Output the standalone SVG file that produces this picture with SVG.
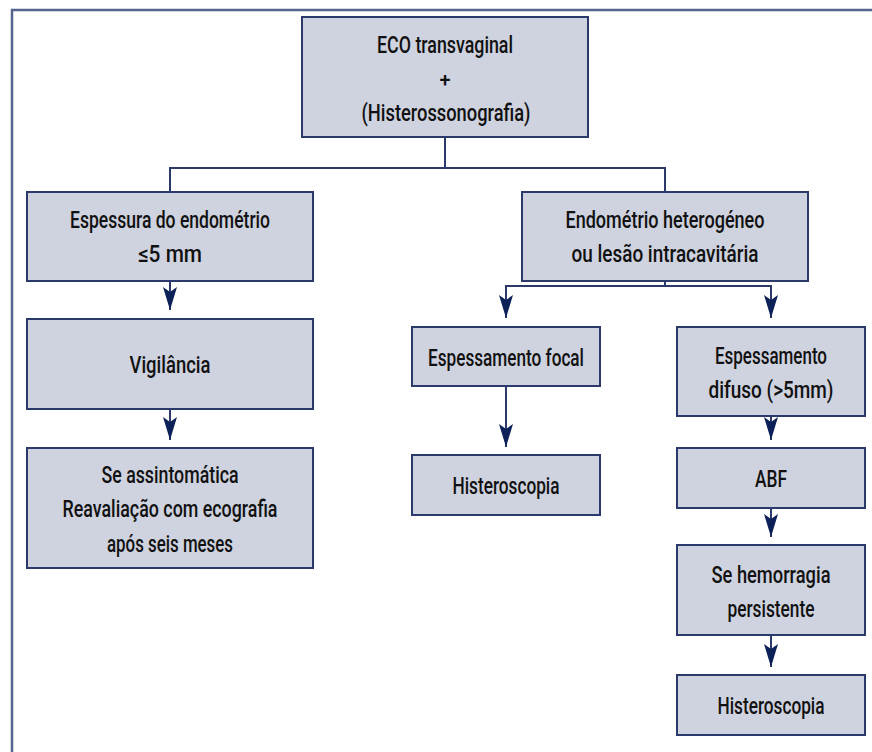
<svg xmlns="http://www.w3.org/2000/svg" width="872" height="752" viewBox="0 0 872 752">
<style>
.box{fill:#cfd3df;stroke:#2b3a6b;stroke-width:2}
.t{font-family:Roboto,"Liberation Sans",sans-serif;font-weight:500;font-size:24px;fill:#111;text-anchor:middle}
.c{fill:none;stroke:#2b3a6b;stroke-width:2}
.frame{fill:none;stroke:#55658f;stroke-width:2.5}
</style>
<defs>
<marker id="ah" markerUnits="userSpaceOnUse" markerWidth="24" markerHeight="14" refX="23" refY="7" orient="auto" overflow="visible">
<path d="M0,0 L23,7 L0,14 L5,7 Z" fill="#0d2159"/>
</marker>
</defs>
<path class="frame" d="M12,752 V10 H872"/>
<g id="connectors">
<path class="c" d="M445,137 V168 H170 V192 M445,168 H665 V192"/>
<path class="c" d="M665,281 V286 H506 V318" marker-end="url(#ah)"/>
<path class="c" d="M665,286 H771 V318" marker-end="url(#ah)"/>
<path class="c" d="M170,281 V310" marker-end="url(#ah)"/>
<path class="c" d="M170,409 V440" marker-end="url(#ah)"/>
<path class="c" d="M506,386 V447" marker-end="url(#ah)"/>
<path class="c" d="M771,416 V440" marker-end="url(#ah)"/>
<path class="c" d="M771,508 V537" marker-end="url(#ah)"/>
<path class="c" d="M771,635 V667" marker-end="url(#ah)"/>
</g>
<g id="n1">
<rect class="box" x="302" y="17" width="286" height="120"/>
<text class="t" x="445" y="53" textLength="136" lengthAdjust="spacingAndGlyphs">ECO transvaginal</text>
<text class="t" x="445" y="87" style="font-size:20px">+</text>
<text class="t" x="446" y="121" textLength="169" lengthAdjust="spacingAndGlyphs">(Histerossonografia)</text>
</g>
<g id="n2">
<rect class="box" x="27" y="192" width="286" height="89"/>
<text class="t" x="170" y="228" textLength="200" lengthAdjust="spacingAndGlyphs">Espessura do endométrio</text>
<text class="t" x="170" y="262" textLength="64" lengthAdjust="spacingAndGlyphs">≤5 mm</text>
</g>
<g id="n3">
<rect class="box" x="522" y="192" width="286" height="89"/>
<text class="t" x="665" y="228" textLength="199" lengthAdjust="spacingAndGlyphs">Endométrio heterogéneo</text>
<text class="t" x="665" y="262" textLength="187" lengthAdjust="spacingAndGlyphs">ou lesão intracavitária</text>
</g>
<g id="n4">
<rect class="box" x="27" y="319" width="286" height="90"/>
<text class="t" x="170" y="373" textLength="81" lengthAdjust="spacingAndGlyphs">Vigilância</text>
</g>
<g id="n5">
<rect class="box" x="27" y="448" width="286" height="120"/>
<text class="t" x="170" y="483" textLength="137" lengthAdjust="spacingAndGlyphs">Se assintomática</text>
<text class="t" x="170" y="517" textLength="215" lengthAdjust="spacingAndGlyphs">Reavaliação com ecografia</text>
<text class="t" x="170" y="552" textLength="126" lengthAdjust="spacingAndGlyphs">após seis meses</text>
</g>
<g id="n6">
<rect class="box" x="412" y="327" width="188" height="59"/>
<text class="t" x="506" y="366" textLength="156" lengthAdjust="spacingAndGlyphs">Espessamento focal</text>
</g>
<g id="n7">
<rect class="box" x="677" y="327" width="188" height="89"/>
<text class="t" x="771" y="364" textLength="112" lengthAdjust="spacingAndGlyphs">Espessamento</text>
<text class="t" x="771" y="398" textLength="125" lengthAdjust="spacingAndGlyphs">difuso (&gt;5mm)</text>
</g>
<g id="n8">
<rect class="box" x="412" y="455" width="188" height="60"/>
<text class="t" x="506" y="494" textLength="107" lengthAdjust="spacingAndGlyphs">Histeroscopia</text>
</g>
<g id="n9">
<rect class="box" x="677" y="448" width="188" height="60"/>
<text class="t" x="771" y="487" textLength="32" lengthAdjust="spacingAndGlyphs">ABF</text>
</g>
<g id="n10">
<rect class="box" x="677" y="545" width="188" height="90"/>
<text class="t" x="771" y="583" textLength="119" lengthAdjust="spacingAndGlyphs">Se hemorragia</text>
<text class="t" x="771" y="617" textLength="87" lengthAdjust="spacingAndGlyphs">persistente</text>
</g>
<g id="n11">
<rect class="box" x="677" y="675" width="188" height="60"/>
<text class="t" x="771" y="714" textLength="107" lengthAdjust="spacingAndGlyphs">Histeroscopia</text>
</g>
</svg>
